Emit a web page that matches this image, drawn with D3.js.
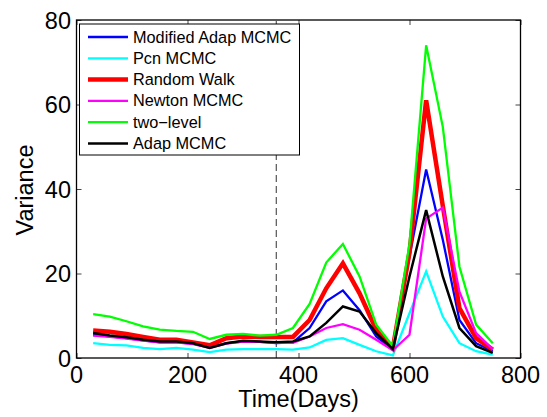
<!DOCTYPE html>
<html><head><meta charset="utf-8">
<script src="https://cdn.jsdelivr.net/npm/d3@7"></script>
<style>body{margin:0;background:#fff}svg{display:block}text{font-family:"Liberation Sans",Arial,sans-serif}</style>
</head><body>
<script>
const days = [30,60,90,120,150,180,210,240,270,300,330,360,390,420,450,480,510,540,570,600,630,660,690,720,750];
const modifiedAdap = [5.5,5.1,4.7,4.2,3.7,3.7,3.4,2.5,3.5,3.9,3.8,3.5,3.7,7.1,13.4,16.0,11.3,5.1,2.0,24,44.6,28,9,3.5,1.6];
const pcn = [3.5,3.1,3.0,2.4,2.1,2.4,2.0,1.4,2.0,2.1,2.1,2.1,2.0,2.5,4.3,4.7,3.1,1.6,0.6,10.6,20.5,9.8,3.5,1.6,0.8];
const randomWalk = [6.5,6.2,5.7,5.0,4.3,4.3,3.7,3.0,4.7,5.1,5.0,5.0,5.0,9.0,16.5,22.4,15.3,6.7,2.4,25,61,36,11.8,4.7,2.0];
const newton = [5.3,5.0,4.6,4.1,3.7,3.7,3.3,2.4,3.4,3.9,3.8,3.6,3.6,5.1,7.1,8.0,6.7,4.3,1.8,5.5,33,35.6,15.7,5.9,2.1];
const twoLevel = [10.4,9.8,8.7,7.5,6.7,6.4,6.2,4.5,5.5,5.7,5.3,5.5,7.1,12.8,22.6,27.0,19.3,7.9,2.8,27,74,54.7,21.6,7.9,3.5];
const adap = [5.9,5.3,4.9,4.3,3.9,3.9,3.5,2.4,3.5,4.1,3.9,3.7,3.9,5.1,8.3,12.2,11.0,5.9,2.1,19.3,35,19.3,7.1,2.8,1.2];
const seriesNames = ["Modified Adap MCMC","Pcn MCMC","Random Walk","Newton MCMC","two\u2212level","Adap MCMC"];
const seriesColors = ["#0000ff","#00ffff","#ff0000","#ff00ff","#00ff00","#000000"];
const seriesWidths = [2.3,2.3,4.5,2.3,2.3,2.5];
const xTicks = [0,200,400,600,800];
const yTicks = [0,20,40,60,80];
const splitDay = 360;

const allSeries = [modifiedAdap,pcn,randomWalk,newton,twoLevel,adap];
const W=547,H=417, L=76.5,R=520.5,T=20,B=358;
const svg=d3.select("body").append("svg").attr("width",W).attr("height",H);
const x=d3.scaleLinear().domain([0,800]).range([L,R]);
const y=d3.scaleLinear().domain([0,80]).range([B,T]);

// dashed line
svg.append("line").attr("x1",x(splitDay)).attr("x2",x(splitDay)).attr("y1",y(0)).attr("y2",y(80))
  .attr("stroke","#555").attr("stroke-width",1.2).attr("stroke-dasharray","7,4");

const line=d3.line().x((d,i)=>x(days[i])).y(d=>y(d));
allSeries.forEach((s,k)=>{
  svg.append("path").datum(s).attr("d",line).attr("fill","none")
    .attr("stroke",seriesColors[k]).attr("stroke-width",seriesWidths[k]).attr("stroke-linejoin","miter");
});

// axes ticks (inward, all four sides)
const tickLen=5;
const gx=svg.append("g").attr("transform",`translate(0,${B})`).call(d3.axisBottom(x).tickValues(xTicks).tickSize(-tickLen).tickFormat(""));
const gxt=svg.append("g").attr("transform",`translate(0,${T})`).call(d3.axisTop(x).tickValues(xTicks).tickSize(-tickLen).tickFormat(""));
const gy=svg.append("g").attr("transform",`translate(${L},0)`).call(d3.axisLeft(y).tickValues(yTicks).tickSize(-tickLen).tickFormat(""));
const gyr=svg.append("g").attr("transform",`translate(${R},0)`).call(d3.axisRight(y).tickValues(yTicks).tickSize(-tickLen).tickFormat(""));
[gx,gxt,gy,gyr].forEach(g=>{g.select(".domain").remove();g.selectAll("line").attr("stroke","#444").attr("stroke-width",1);});
svg.append("rect").attr("x",L).attr("y",T).attr("width",R-L).attr("height",B-T).attr("fill","none").attr("stroke","#000").attr("stroke-width",1.3);

// tick labels
svg.selectAll(".xl").data(xTicks).enter().append("text").attr("x",d=>x(d)).attr("y",383)
  .attr("text-anchor","middle").attr("font-size",23.5).text(d=>d);
svg.selectAll(".yl").data(yTicks).enter().append("text").attr("x",L-5.5).attr("y",d=>y(d)+8.5)
  .attr("text-anchor","end").attr("font-size",23.5).text(d=>d);

svg.append("text").attr("x",(L+R)/2).attr("y",407).attr("text-anchor","middle").attr("font-size",23.5).text("Time(Days)");
svg.append("text").attr("transform","translate(33,190) rotate(-90)").attr("text-anchor","middle").attr("font-size",23.5).text("Variance");

// legend
const lg=svg.append("g");
lg.append("rect").attr("x",79.5).attr("y",24).attr("width",220).attr("height",131).attr("fill","#fff").attr("stroke","#000").attr("stroke-width",1);
seriesNames.forEach((n,k)=>{
  const yy=37+k*21.3;
  lg.append("line").attr("x1",88).attr("x2",128).attr("y1",yy).attr("y2",yy).attr("stroke",seriesColors[k]).attr("stroke-width",seriesWidths[k]);
  lg.append("text").attr("x",133).attr("y",yy+5.5).attr("font-size",16.3).text(n);
});
</script>
</body></html>
